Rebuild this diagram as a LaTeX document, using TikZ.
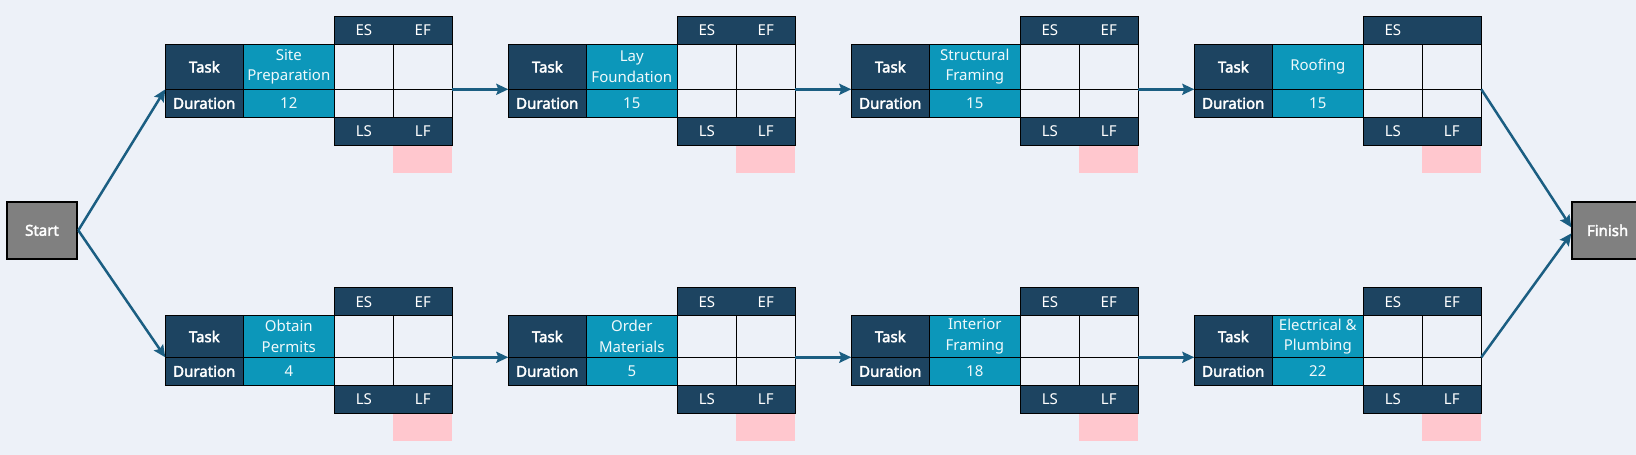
\documentclass[tikz,border=0pt]{standalone}
\usepackage{fontspec}
\setmainfont{Noto Sans}[BoldFont={Noto Sans}, BoldFeatures={FakeBold=2.5}]
\usetikzlibrary{arrows.meta}
\definecolor{bg}{HTML}{EDF1F8}
\definecolor{navy}{HTML}{1D4461}
\definecolor{mycyan}{HTML}{0C97BA}
\definecolor{pinkc}{HTML}{FFC7CE}
\definecolor{arr}{HTML}{1B5E82}
\definecolor{boxgray}{HTML}{808080}
\tikzset{
  cell/.style={draw=black, line width=1.3pt, inner sep=0pt, outer sep=0pt, anchor=north west},
  dark/.style={cell, fill=navy, text=white, font=\fontsize{15}{17}\selectfont\bfseries},
  hdrtxt/.style={text=white, font=\fontsize{15}{17}\selectfont, inner sep=0pt},
  namec/.style={cell, fill=mycyan, text=white!94!mycyan, align=center, font=\fontsize{15}{20.5}\selectfont},
  blank/.style={cell, fill=bg},
  pinkbox/.style={fill=pinkc, draw=none, inner sep=0pt, outer sep=0pt, anchor=north west, minimum width=59pt, minimum height=27.4pt},
  flow/.style={draw=arr, line width=2.5pt, -{Stealth[length=12pt,width=11pt,inset=2pt]}},
  endbox/.style={draw=black, line width=2pt, fill=boxgray, text=white, font=\fontsize{15}{17}\selectfont\bfseries, minimum width=70.6pt, minimum height=57.3pt, inner sep=0pt}
}
% id, x, y, task-row height, name, duration, EF label
\newcommand\tblock[7]{%
  \begin{scope}[shift={(#2,#3)}]
    \node[cell, fill=navy, minimum width=118pt, minimum height=28pt] (#1-top) at (169,0) {};
    \node[hdrtxt] (#1-es) at (198.5,14) {ES};
    \node[hdrtxt] (#1-ef) at (257.5,14) {#7};
    \node[dark, minimum width=78pt, minimum height=#4pt] (#1-task) at (0,28) {Task};
    \node[namec, minimum width=91pt, minimum height=#4pt] (#1-name) at (78,28) {#5};
    \node[blank, minimum width=59pt, minimum height=#4pt] (#1-b1) at (169,28) {};
    \node[blank, minimum width=59pt, minimum height=#4pt] (#1-b2) at (228,28) {};
    \node[dark, minimum width=78pt, minimum height=28pt] (#1-dl) at ({0},{28+#4}) {Duration};
    \node[namec, minimum width=91pt, minimum height=28pt] (#1-dur) at ({78},{28+#4}) {#6};
    \node[blank, minimum width=59pt, minimum height=28pt] (#1-b3) at ({169},{28+#4}) {};
    \node[blank, minimum width=59pt, minimum height=28pt] (#1-b4) at ({228},{28+#4}) {};
    \node[pinkbox] (#1-pink) at ({228},{84+#4}) {};
    \node[cell, fill=navy, minimum width=118pt, minimum height=28pt] (#1-bot) at ({169},{56+#4}) {};
    \node[hdrtxt] (#1-ls) at ({198.5},{70+#4}) {LS};
    \node[hdrtxt] (#1-lf) at ({257.5},{70+#4}) {LF};
    \coordinate (#1-in) at ({0},{28+#4});
    \coordinate (#1-out) at ({287},{28+#4});
  \end{scope}}
\begin{document}
\begin{tikzpicture}[x=1pt,y=-1pt]
  \fill[bg] (0,0) rectangle (1636,455);
  \useasboundingbox (0,0) rectangle (1636,455);
  \clip (0,0) rectangle (1636,455);
  \tblock{a}{165.3}{16.3}{45}{Site\\Preparation}{12}{EF}
  \tblock{b}{508.3}{16.3}{45}{Lay\\Foundation}{15}{EF}
  \tblock{c}{851.3}{16.3}{45}{Structural\\Framing}{15}{EF}
  \tblock{d}{1194.3}{16.3}{45}{Roofing}{15}{}
  \tblock{e}{165.3}{287.7}{41.6}{Obtain\\Permits}{4}{EF}
  \tblock{f}{508.3}{287.7}{41.6}{Order\\Materials}{5}{EF}
  \tblock{g}{851.3}{287.7}{41.6}{Interior\\Framing}{18}{EF}
  \tblock{h}{1194.3}{287.7}{41.6}{Electrical \&\\Plumbing}{22}{EF}
  \node[endbox] (start) at (42,230.35) {Start};
  \node[endbox] (finish) at (1607.6,230.35) {Finish};
  \draw[flow] (start.east) -- (a-in);
  \draw[flow] (start.east) -- (e-in);
  \draw[flow] (a-out) -- (b-in);
  \draw[flow] (b-out) -- (c-in);
  \draw[flow] (c-out) -- (d-in);
  \draw[flow] (e-out) -- (f-in);
  \draw[flow] (f-out) -- (g-in);
  \draw[flow] (g-out) -- (h-in);
  \draw[flow] (d-out) -- ([yshift=3pt]finish.west);
  \draw[flow] (h-out) -- ([yshift=-3pt]finish.west);
\end{tikzpicture}
\end{document}
